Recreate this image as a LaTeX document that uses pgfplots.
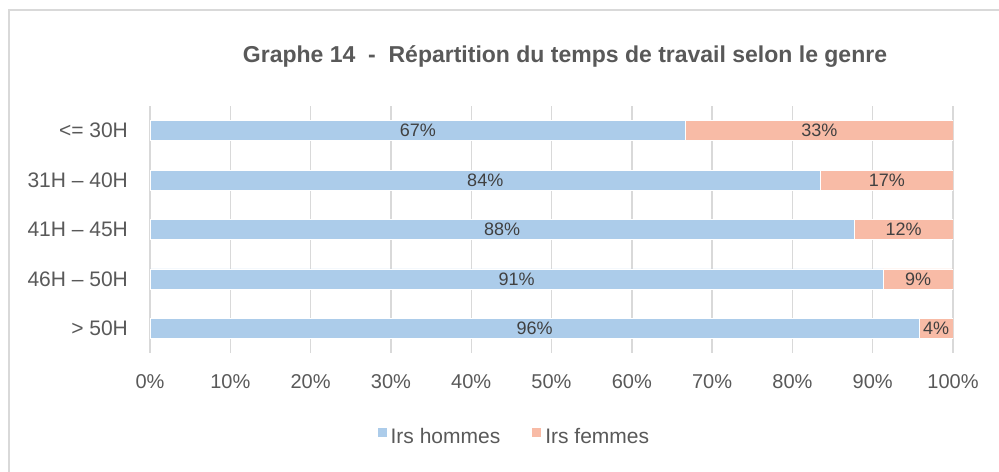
\documentclass[border=0pt]{standalone}
\usepackage{pgfplots}
\pgfplotsset{compat=1.18}
\usepackage{pgfplotstable}
\usepackage{fontspec}
\setmainfont{Liberation Sans}
\definecolor{hom}{HTML}{ACCCEA}
\definecolor{fem}{HTML}{F8BBA6}
\definecolor{txt}{HTML}{595959}
\definecolor{lbl}{HTML}{404040}
\definecolor{grd}{HTML}{D9D9D9}
\pgfplotstableread{
y hommes femmes
0 66.7 33.3
1 83.5 16.5
2 87.7 12.3
3 91.3 8.7
4 95.8 4.2
}\data
\begin{document}
\begin{tikzpicture}
\useasboundingbox (0,0) rectangle (499.5pt,235.5pt);
\fill[white] (0,0) rectangle (499.5pt,235.5pt);
\draw[grd, line width=0.7pt] (4.5pt,-3pt) -- (4.5pt,230.5pt) -- (503pt,230.5pt);
\node[font=\bfseries\fontsize{11.5}{13}\selectfont, text=txt] at (282.5pt,207pt) {Graphe 14\ \ -\ \ Répartition du temps de travail selon le genre};
\begin{axis}[
  at={(75pt,59pt)}, anchor=south west,
  scale only axis, width=401.5pt, height=123.5pt,
  xbar stacked, bar width=10pt,
  xmin=0, xmax=100, ymin=-0.5, ymax=4.5, y dir=reverse,
  ytick={0,...,4},
  yticklabels={{<= 30H},{31H – 40H},{41H – 45H},{46H – 50H},{> 50H}},
  xtick={0,10,...,100},
  xticklabel={\pgfmathprintnumber{\tick}\%},
  /pgf/number format/assume math mode=true,
  major tick length=0pt,
  axis line style={draw=none},
  tick style={draw=none},
  grid=none, xmajorgrids=true,
  grid style={grd, line width=0.7pt},
  xticklabel style={font=\fontsize{10}{12}\selectfont, text=txt, anchor=base, yshift=-17.5pt},
  yticklabel style={font=\fontsize{10.5}{12}\selectfont, text=txt, xshift=-7.5pt},
  nodes near coords={\pgfmathprintnumber[fixed,precision=0]{\pgfplotspointmeta}\%},
  nodes near coords style={font=\fontsize{9}{11}\selectfont, text=lbl, anchor=center},
  legend style={at={(0.455,-0.34)}, anchor=center, draw=none, fill=none,
    legend columns=2, font=\fontsize{10.5}{12}\selectfont, text=txt,
    /tikz/every even column/.append style={column sep=14pt},
    inner sep=0pt},
  legend image code/.code={\fill[#1,draw=none] (0pt,0.2pt) rectangle (4.5pt,4.7pt);},
]
\addplot[fill=hom, draw=white, line width=0.4pt] table[x=hommes, y=y] {\data};
\addlegendentry{Irs hommes}
\addplot[fill=fem, draw=white, line width=0.4pt] table[x=femmes, y=y] {\data};
\addlegendentry{Irs femmes}
\end{axis}
\end{tikzpicture}
\end{document}
